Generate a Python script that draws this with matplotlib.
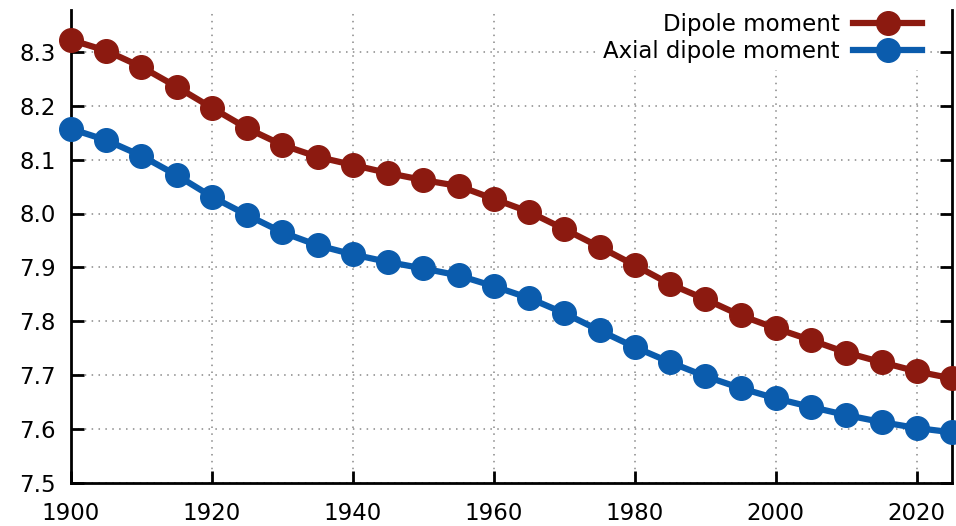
import matplotlib
matplotlib.use("Agg")
import matplotlib.pyplot as plt

years = list(range(1900, 2030, 5))
dipole = [8.322, 8.302, 8.272, 8.235, 8.196, 8.158, 8.127, 8.105, 8.090, 8.075,
          8.062, 8.051, 8.027, 8.003, 7.971, 7.938, 7.904, 7.869, 7.841, 7.811,
          7.787, 7.765, 7.742, 7.724, 7.707, 7.694]
axial = [8.157, 8.136, 8.107, 8.071, 8.031, 7.997, 7.965, 7.941, 7.924, 7.910,
         7.898, 7.885, 7.865, 7.843, 7.815, 7.783, 7.752, 7.724, 7.698, 7.676,
         7.657, 7.641, 7.626, 7.613, 7.602, 7.594]
xticks = [1900, 1920, 1940, 1960, 1980, 2000, 2020]
yticks = [7.5, 7.6, 7.7, 7.8, 7.9, 8.0, 8.1, 8.2, 8.3]

RED = "#8c1a10"
BLUE = "#0b5cad"

plt.rcParams['font.family'] = ['DejaVu Sans']
fig = plt.figure(figsize=(9.56, 5.26), dpi=100)
ax = fig.add_axes([71/956, 1-483/526, (952-71)/956, (483-10)/526])

ax.plot(years, dipole, '-o', color=RED, lw=4.5, ms=17, label='Dipole moment', clip_on=False, zorder=3)
ax.plot(years, axial, '-o', color=BLUE, lw=4.5, ms=17, label='Axial dipole moment', clip_on=False, zorder=3)

ax.set_xlim(1900, 2025)
ax.set_ylim(7.5, 7.5 + 473/539)
ax.set_xticks(xticks)
ax.set_yticks(yticks)
ax.set_yticklabels([f"{v:.1f}" for v in yticks])
ax.grid(True, linestyle=(0, (1, 3.5)), color='#888888', lw=1.1)
ax.spines['top'].set_visible(False)
for s in ['left', 'right', 'bottom']:
    ax.spines[s].set_linewidth(2)
ax.tick_params(axis='both', direction='in', width=2, length=9, labelsize=16.5)
ax.tick_params(axis='y', right=True, pad=11)
ax.tick_params(axis='x', pad=14)

leg = ax.legend(loc='upper right', bbox_to_anchor=(929/956, 1.0 - 6/526), bbox_transform=fig.transFigure,
                frameon=True, facecolor='white', edgecolor='none', framealpha=1, fancybox=False,
                markerfirst=False, fontsize=16.5, handlelength=3.0, borderpad=0.3,
                labelspacing=0.2, borderaxespad=0, handletextpad=0.6)
leg.set_zorder(5)
fig.savefig('out.png', dpi=100)
